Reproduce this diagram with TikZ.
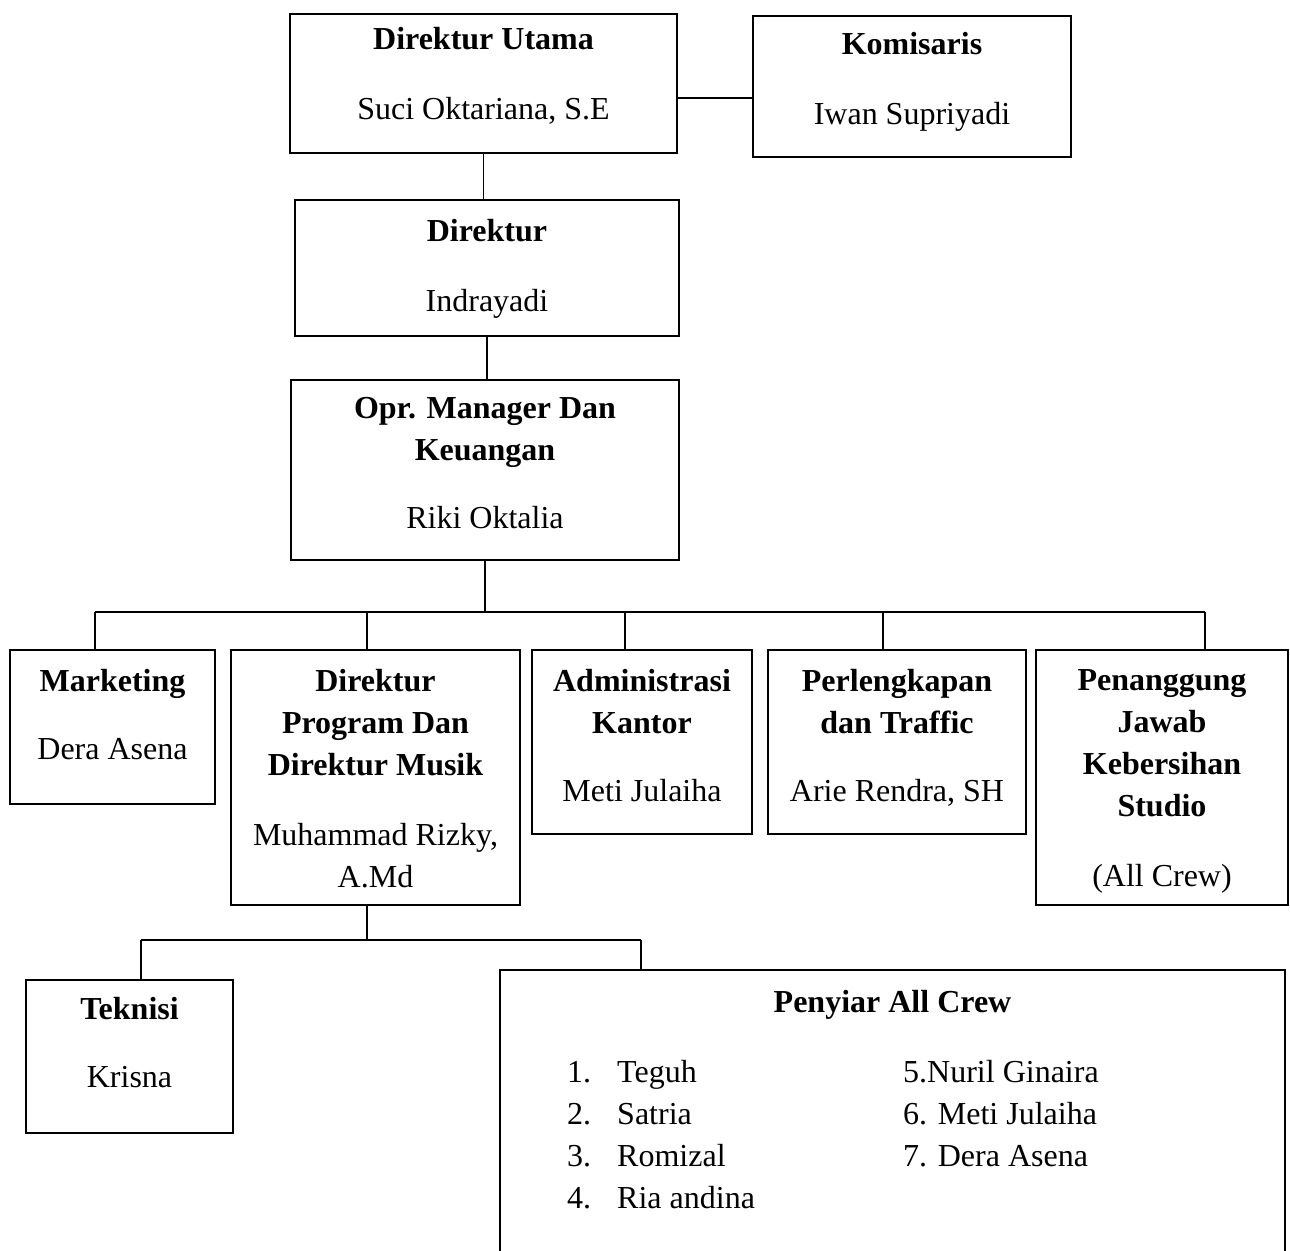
\documentclass[tikz,border=0pt]{standalone}
\usepackage{fontspec}
\setmainfont{Liberation Serif}
\usetikzlibrary{positioning}
\begin{document}
\begin{tikzpicture}[x=1pt, y=-1pt]
        \tikzstyle{box}=[draw, line width=1.8pt, rectangle, inner sep=0pt]
        \tikzstyle{txt}=[align=center, inner sep=0pt, font=\fontsize{32}{42}\selectfont]
        \tikzstyle{link}=[line width=1.6pt]
        \useasboundingbox (0, 0) rectangle (1290, 1250);
        \clip (0, 0) rectangle (1290, 1250);
        % \draw[draw=black!10] (0, 0) grid[step=50] (1290, 1250);

        \node[box, minimum width=387pt, minimum height=139pt] (dirut) at (483.5, 83.5) {};
        \node[box, minimum width=318pt, minimum height=141pt] (komisaris) at (912, 86.5) {};
        \node[box, minimum width=384pt, minimum height=136pt] (direktur) at (487, 268) {};
        \node[box, minimum width=388pt, minimum height=180pt] (opr) at (485, 470) {};
        \node[box, minimum width=205pt, minimum height=154pt] (market) at (112.5, 727) {};
        \node[box, minimum width=289pt, minimum height=255pt] (dirprog) at (375.5, 777.5) {};
        \node[box, minimum width=220pt, minimum height=184pt] (admin) at (642, 742) {};
        \node[box, minimum width=258pt, minimum height=184pt] (perleng) at (897, 742) {};
        \node[box, minimum width=252pt, minimum height=255pt] (pj) at (1162, 777.5) {};
        \node[box, minimum width=207pt, minimum height=153pt] (teknisi) at (129.5, 1056.5) {};
        \node[box, minimum width=785pt, minimum height=330pt] (penyiar) at (892.5, 1135) {};

        \node[txt, below=14pt of dirut.north] (dirut-txt) {\textbf{Direktur Utama}\\[28pt]Suci Oktariana, S.E};
        \node[txt, below=17pt of komisaris.north] (komisaris-txt) {\textbf{Komisaris}\\[28pt]Iwan Supriyadi};
        \node[txt, below=20pt of direktur.north] (direktur-txt) {\textbf{Direktur}\\[28pt]Indrayadi};
        \node[txt, below=18pt of opr.north] (opr-txt) {\textbf{Opr. Manager Dan}\\\textbf{Keuangan}\\[26pt]Riki Oktalia};
        \node[txt, below=20pt of market.north] (market-txt) {\textbf{Marketing}\\[26pt]Dera Asena};
        \node[txt, below=20pt of dirprog.north] (dirprog-txt) {\textbf{Direktur}\\\textbf{Program Dan}\\\textbf{Direktur Musik}\\[28pt]Muhammad Rizky,\\A.Md};
        \node[txt, below=20pt of admin.north] (admin-txt) {\textbf{Administrasi}\\\textbf{Kantor}\\[26pt]Meti Julaiha};
        \node[txt, below=20pt of perleng.north] (perleng-txt) {\textbf{Perlengkapan}\\\textbf{dan Traffic}\\[26pt]Arie Rendra, SH};
        \node[txt, below=20pt of pj.north] (pj-txt) {\textbf{Penanggung}\\\textbf{Jawab}\\\textbf{Kebersihan}\\\textbf{Studio}\\[28pt](All Crew)};
        \node[txt, below=18pt of teknisi.north] (teknisi-txt) {\textbf{Teknisi}\\[26pt]Krisna};
        \node[txt, below=21pt of penyiar.north] (penyiar-txt) {\textbf{Penyiar All Crew}};

        \foreach \i/\name in {1/Teguh, 2/Satria, 3/Romizal, 4/Ria andina} {
            \node[txt, anchor=base west] (num\i) at (567, {1082 + 42*(\i-1)}) {\i.};
            \node[txt, anchor=base west] (crew\i) at (617, {1082 + 42*(\i-1)}) {\name};
        }
        \node[txt, anchor=base west] (crew5) at (903, 1082) {5.Nuril Ginaira};
        \node[txt, anchor=base west] (crew6) at (903, 1124) {6. Meti Julaiha};
        \node[txt, anchor=base west] (crew7) at (903, 1166) {7. Dera Asena};

        \coordinate[below=14.5pt of dirut.east] (dk);
        \draw[link] (dk) -- (dk -| komisaris.west);
        \draw[link] (dirut.south) -- (dirut.south |- direktur.north);
        \draw[link] (direktur.south) -- (direktur.south |- opr.north);

        \coordinate (bus) at (485, 612);
        \draw[link] (opr.south) -- (opr.south |- bus);
        \foreach \x/\n in {95/market, 367/dirprog, 625/admin, 883/perleng, 1205/pj} {
            \coordinate (bus-\n) at (\x, 612);
            \draw[link] (bus-\n) -- (bus-\n |- \n.north);
        }
        \draw[link] (bus-market) -- (bus-pj);

        \coordinate (sub) at (367, 940);
        \draw[link] (sub |- dirprog.south) -- (sub);
        \foreach \x/\n in {141/teknisi, 641/penyiar} {
            \coordinate (sub-\n) at (\x, 940);
            \draw[link] (sub-\n) -- (sub-\n |- \n.north);
        }
        \draw[link] (sub-teknisi) -- (sub-penyiar);
    \end{tikzpicture}
\end{document}
